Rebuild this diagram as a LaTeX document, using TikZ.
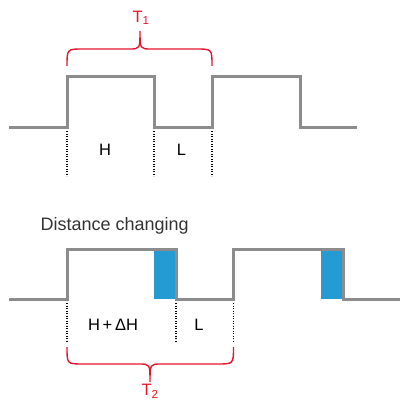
\documentclass[tikz,border=0pt]{standalone}
\usepackage{fontspec}
\setmainfont{Liberation Sans}
\usetikzlibrary{positioning}
\definecolor{wavegray}{HTML}{8C8C8C}
\definecolor{bracered}{HTML}{E3142C}
\definecolor{deltablue}{HTML}{259BD4}

\begin{document}
\begin{tikzpicture}[x=1pt, y=-1pt,
  wave/.style={draw=wavegray, line width=3pt, line join=miter},
  edge/.style={line width=1.6pt, dash pattern=on 1.2pt off 1.3pt},
  brace/.style={draw=bracered, line width=1.4pt},
  lab/.style={font=\fontsize{16.5}{16.5}\selectfont, inner sep=0pt},
  period/.style={font=\fontsize{16.5}{16.5}\selectfont, text=bracered, inner sep=0pt},
  delta/.style={fill=deltablue, draw=none}]
  \useasboundingbox (0,0) rectangle (400,401);
  % top signal
  \coordinate (r1) at (67,127);
  \coordinate (f1) at (154,127);
  \coordinate (r2) at (212,127);
  \draw[wave] (9,127) -- (r1) -- (67,77) -- (154,77) -- (f1) -- (r2) -- (212,77) -- (300,77) -- (300,127) -- (357,127);
  \draw[edge] (67,131) -- (67,176);
  \draw[edge] (154,131) -- (154,176);
  \draw[edge] (212,131) -- (212,176);
  \node[lab] (high1) at (105,150) {H};
  \node[lab] (low1) at (181.5,150) {L};
  \draw[brace] (67,66) .. controls (67,49) .. (83,49) -- (129,49) .. controls (140,49) .. (140,31)
               .. controls (140,49) .. (151,49) -- (196,49) .. controls (212,49) .. (212,66);
  \node[period] (t1) at (141,18) {T\textsubscript{1}};
  % bottom signal
  \node[font=\fontsize{18}{18}\selectfont, anchor=base west, inner sep=0pt, text=black!80] (title) at (40.5,230.5) {Distance changing};
  \fill[delta] (154,249) rectangle (176,299);
  \fill[delta] (321,249) rectangle (343,299);
  \draw[wave] (9,299) -- (67,299) -- (67,249) -- (176,249) -- (176,299) -- (233.5,299) -- (233.5,249) -- (343,249) -- (343,299) -- (400,299);
  \draw[edge] (67,303) -- (67,341);
  \draw[edge] (176,303) -- (176,341);
  \draw[edge] (233.5,303) -- (233.5,341);
  \node[lab] (high2) at (113,325) {H\,+\,ΔH};
  \node[lab] (low2) at (199,325) {L};
  \draw[brace] (67,347) .. controls (67,364) .. (83,364) -- (139,364) .. controls (150,364) .. (150,382)
               .. controls (150,364) .. (161,364) -- (217,364) .. controls (233.5,364) .. (233.5,347);
  \node[period] (t2) at (150,391.5) {T\textsubscript{2}};
\end{tikzpicture}
\end{document}
